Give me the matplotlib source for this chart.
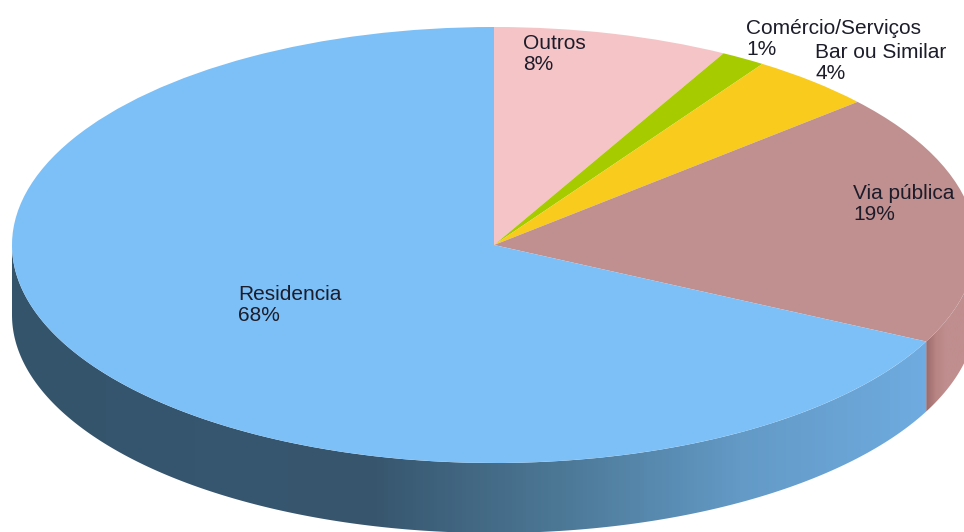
import numpy as np
import matplotlib
matplotlib.use('Agg')
import matplotlib.pyplot as plt
from matplotlib.colors import LinearSegmentedColormap
from matplotlib.patches import Polygon

plt.rcParams['font.family'] = ['Liberation Sans', 'DejaVu Sans']

# slices clockwise from 12 o'clock
categories = ['Outros', 'Comércio/Serviços', 'Bar ou Similar', 'Via pública', 'Residencia']
shares = [7.9, 1.5, 4.2, 18.7, 67.7]
percent_labels = ['8%', '1%', '4%', '19%', '68%']
colors = ['#f5c4c6', '#a6cc00', '#f8cb1c', '#c09090', '#7cc0f7']
# left edge and baseline of the name, in pixels
label_px = [(523, 49), (746, 34), (815, 58), (853, 199), (238, 300)]
line_gap = 21

# ellipse of the top face, in pixels
W, H = 964, 532
cx, cy, rx, ry = 494, 245, 482, 218
depth = 70 / ry

fig = plt.figure(figsize=(W / 100, H / 100), dpi=100)
ax = fig.add_axes([0, 0, 1, 1])

ax.pie(shares, colors=colors, startangle=90, counterclock=False, radius=1,
       wedgeprops={'linewidth': 0, 'zorder': 3})
ax.set_aspect('auto')
xlim = (-cx / rx, (W - cx) / rx)
ylim = ((cy - H) / ry, cy / ry)

wall_maps = {
    'Residencia': ['#34546c', '#36556e', '#38576f', '#4c7896', '#639ac6', '#6fabe0'],
    'Via pública': ['#9a6a6a', '#b88484', '#c08e8e', '#c08e8e', '#c08e8e', '#c08e8e'],
}

# side wall: only the part of each slice on the lower half of the ellipse
edges = np.cumsum([0] + shares) / sum(shares) * 360
for name, a0, a1 in zip(categories, edges[:-1], edges[1:]):
    a0, a1 = max(a0, 90), min(a1, 270)
    if a1 <= a0:
        continue
    t = np.radians(np.linspace(a0, a1, 300))
    xs, ys = np.sin(t), np.cos(t)
    outline = np.vstack([np.column_stack([xs, ys]),
                         np.column_stack([xs[::-1], ys[::-1] - depth])])
    patch = Polygon(outline, closed=True, facecolor='none', edgecolor='none')
    ax.add_patch(patch)
    cmap = LinearSegmentedColormap.from_list(name, wall_maps[name])
    grad = np.linspace(0, 1, 256).reshape(1, -1)
    if name == 'Via pública':
        x0, x1 = xs.min(), xs.max()
    else:
        x0, x1 = -1, xs.max()
    im = ax.imshow(grad, cmap=cmap, extent=(x0, x1, ylim[0], ylim[1]),
                   aspect='auto', zorder=2, interpolation='bilinear')
    im.set_clip_path(patch)

ax.set_xlim(xlim)
ax.set_ylim(ylim)
ax.axis('off')

# name and percent are separate texts so the two-line boxes don't collide
for name, pct, (px, py) in zip(categories, percent_labels, label_px):
    for line, base in ((name, py), (pct, py + line_gap)):
        ax.text((px - cx) / rx, (cy - base) / ry, line, fontsize=15,
                color='#1c1c2a', ha='left', va='baseline', zorder=5)

fig.savefig('out.png', dpi=100)
